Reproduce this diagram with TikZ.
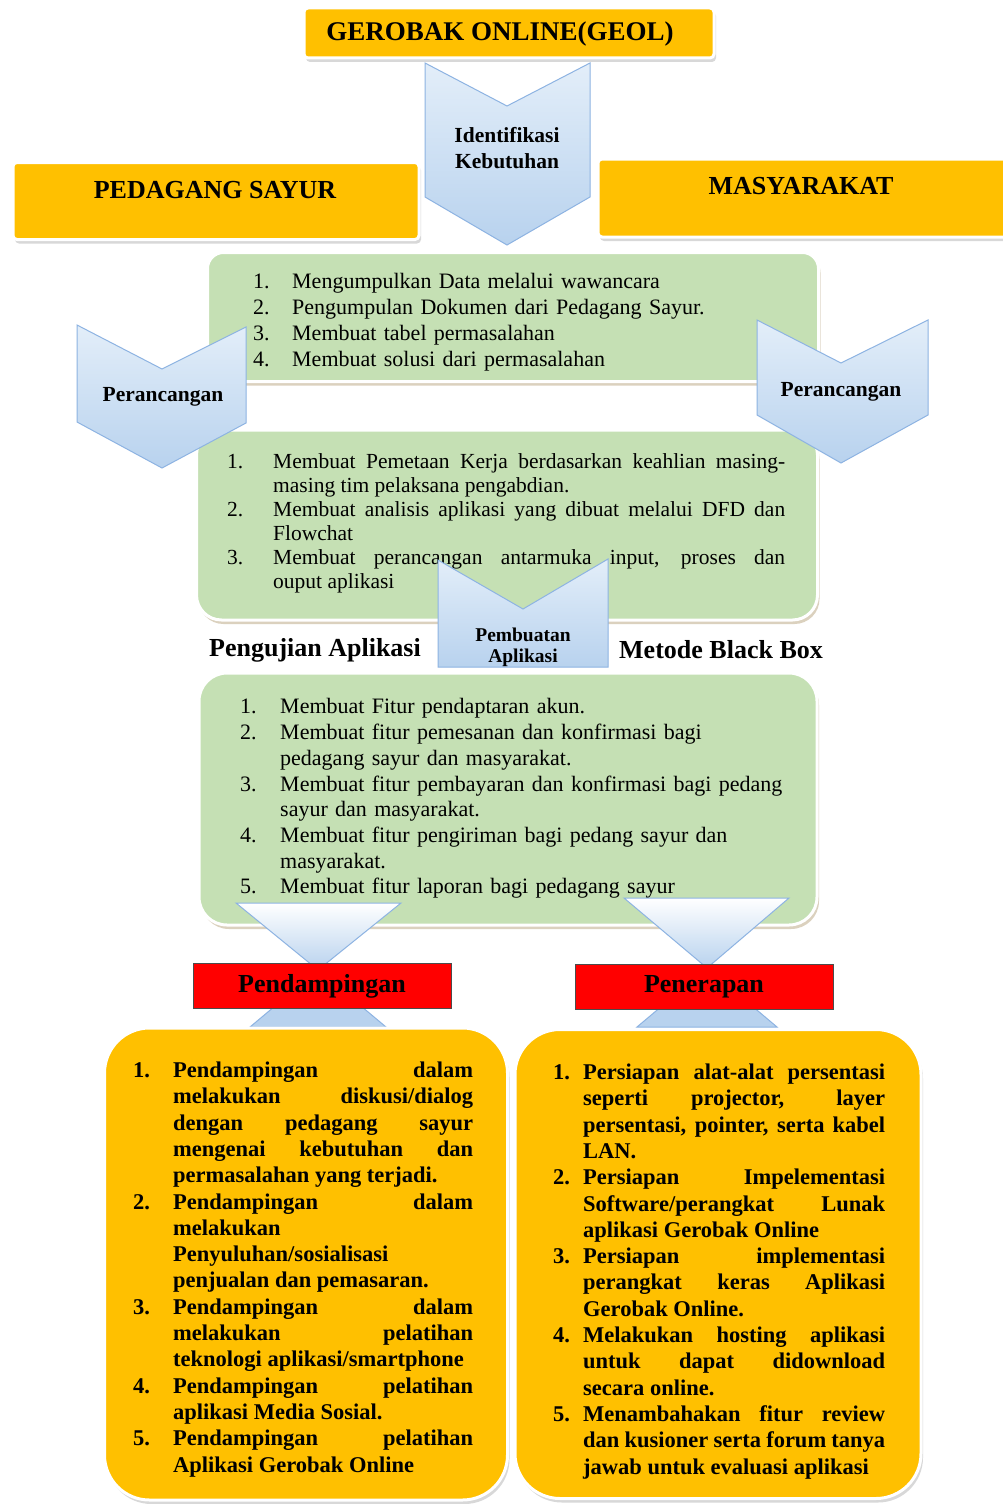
\documentclass[tikz,border=0pt]{standalone}
\usepackage{fontspec}
\setmainfont{Liberation Serif}
\usetikzlibrary{shadows}

\definecolor{geolyellow}{HTML}{FFC000}
\definecolor{stepgreen}{HTML}{C5E0B4}
\definecolor{chevtop}{HTML}{E3EEF9}
\definecolor{chevbot}{HTML}{B8D2EE}
\definecolor{chevline}{HTML}{8DB3E2}
\definecolor{tanshadow}{HTML}{B9A57F}

\newlength\numw
\newcommand\itm[2]{\par\noindent\hangindent=\numw\hangafter=1\strut\makebox[\numw][l]{#1}#2\strut}
\newcommand\listsetup[1]{\setlength\numw{#1}\tolerance=10000\hyphenpenalty=10000\exhyphenpenalty=10000\parindent=0pt}

\tikzset{
	yelbox/.style   = {rectangle, rounded corners=4pt, fill=geolyellow,
		draw=white, line width=3pt,
		drop shadow={shadow xshift=2pt, shadow yshift=-4pt, fill=black!30}},
	bigbox/.style   = {yelbox, rounded corners=45pt},
	greenbox/.style = {rectangle, rounded corners=20pt, fill=stepgreen,
		draw=white, line width=3pt,
		drop shadow={shadow xshift=2pt, shadow yshift=-4pt, fill=tanshadow}},
	redbox/.style   = {rectangle, fill=red, draw=black!70, line width=0.8pt},
	chev/.style     = {draw=chevline, line width=1pt, top color=chevtop, bottom color=chevbot},
	funnel/.style   = {draw=chevline, line width=1pt, top color=white, bottom color=chevbot},
	title/.style    = {font=\fontsize{26}{30}\selectfont\bfseries},
	chevtext/.style = {align=center, inner sep=0pt, font=\fontsize{21.5}{26}\selectfont\bfseries},
	listtext/.style = {anchor=north west, inner sep=0pt}
}

\begin{document}
\begin{tikzpicture}[x=1pt, y=-1pt]
	\useasboundingbox[fill=white] (0,0) rectangle (1003,1504);

	% top part
	\draw[chev] (425,63) -- (507,106) -- (590,63) -- (590,197) -- (507,245) -- (425,197) -- cycle;
	\node[chevtext] (identifikasi) at (507,148) {Identifikasi\\Kebutuhan};

	\node[yelbox, minimum width=410pt, minimum height=50pt] (geol) at (509,33) {};
	\node[title, font=\fontsize{27}{30}\selectfont\bfseries] (geoltxt) at (500,34) {GEROBAK ONLINE(GEOL)};
	\node[yelbox, minimum width=406pt, minimum height=77pt] (pedagang) at (216,201) {};
	\node[title] (pedagangtxt) at (215,190) {PEDAGANG SAYUR};
	\node[yelbox, minimum width=412pt, minimum height=78pt] (masyarakat) at (804,198) {};
	\node[title] (masyarakattxt) at (801,186) {MASYARAKAT};

	% identifikasi
	\node[greenbox, rounded corners=16pt, minimum width=611pt, minimum height=129pt] (ident) at (513,317) {};
	\node[listtext, text width=480pt, align=left, font=\fontsize{22}{26}\selectfont] (identtxt) at (253,262) {\listsetup{39pt}%
		\itm{1.}{Mengumpulkan Data melalui wawancara}
		\itm{2.}{Pengumpulan Dokumen dari Pedagang Sayur.}
		\itm{3.}{Membuat tabel permasalahan}
		\itm{4.}{Membuat solusi dari permasalahan}\par};

	% perancangan
	\node[greenbox, rounded corners=25pt, minimum width=621pt, minimum height=190pt] (rancang) at (507,525) {};
	\node[listtext, text width=558pt, align=justify, font=\fontsize{21.5}{24}\selectfont] (rancangtxt) at (227,444) {\listsetup{46pt}%
		\itm{1.}{Membuat Pemetaan Kerja berdasarkan keahlian masing-\linebreak masing tim pelaksana pengabdian.}
		\itm{2.}{Membuat analisis aplikasi yang dibuat melalui DFD dan\linebreak Flowchat}
		\itm{3.}{Membuat perancangan antarmuka input, proses dan\linebreak ouput aplikasi}\par};

	\draw[chev] (77,325) -- (162,369) -- (246,327) -- (246,423) -- (162,468) -- (77,422) -- cycle;
	\node[chevtext] (rancangkiri) at (163,397) {Perancangan};
	\draw[chev] (757,320) -- (841,363) -- (928,320) -- (928,415) -- (841,463) -- (757,415) -- cycle;
	\node[chevtext] (rancangkanan) at (841,392) {Perancangan};

	% pembuatan
	\draw[chev] (438,560) -- (523,609) -- (608,559) -- (608,667) -- (438,667) -- cycle;
	\node[chevtext, font=\fontsize{19.5}{21}\selectfont\bfseries] (pembuatan) at (523,647) {Pembuatan\\Aplikasi};
	\node[title] (pengujian) at (315,650) {Pengujian Aplikasi};
	\node[title] (blackbox) at (721,650) {Metode Black Box};

	\node[greenbox, rounded corners=28pt, minimum width=618pt, minimum height=252pt] (buat) at (508,799) {};
	\node[listtext, text width=552pt, align=left, font=\fontsize{22}{25.7}\selectfont] (buattxt) at (240,688) {\listsetup{40pt}%
		\itm{1.}{Membuat Fitur pendaptaran akun.}
		\itm{2.}{Membuat fitur pemesanan dan konfirmasi bagi\newline pedagang sayur dan masyarakat.}
		\itm{3.}{Membuat fitur pembayaran dan konfirmasi bagi pedang\newline sayur dan masyarakat.}
		\itm{4.}{Membuat fitur pengiriman bagi pedang sayur dan\newline masyarakat.}
		\itm{5.}{Membuat fitur laporan bagi pedagang sayur}\par};

	% pendampingan dan penerapan
	\draw[funnel] (236,903) -- (401,903) -- (318,970) -- cycle;
	\draw[chev, top color=chevbot] (318,970) -- (386,1027) -- (250,1027) -- cycle;
	\draw[funnel] (624,898) -- (789,898) -- (707,968) -- cycle;
	\draw[chev, top color=chevbot] (707,968) -- (777,1027) -- (637,1027) -- cycle;

	\node[redbox, title, minimum width=258pt, minimum height=45pt] (pendampingan) at (322,986) {Pendampingan};
	\node[redbox, title, minimum width=258pt, minimum height=45pt] (penerapan) at (704,987) {Penerapan};

	\node[bigbox, minimum width=403pt, minimum height=472pt] (dampingbox) at (306,1264) {};
	\node[listtext, text width=340pt, align=justify, font=\fontsize{22.5}{26.3}\selectfont\bfseries] (dampingtxt) at (133,1051) {\listsetup{40pt}%
		\itm{1.}{Pendampingan dalam\linebreak melakukan diskusi/dialog\linebreak dengan pedagang sayur\linebreak mengenai kebutuhan dan\linebreak permasalahan yang terjadi.}
		\itm{2.}{Pendampingan dalam\linebreak melakukan\linebreak Penyuluhan/sosialisasi\linebreak penjualan dan pemasaran.}
		\itm{3.}{Pendampingan dalam\linebreak melakukan pelatihan\linebreak teknologi aplikasi/smartphone}
		\itm{4.}{Pendampingan pelatihan\linebreak aplikasi Media Sosial.}
		\itm{5.}{Pendampingan pelatihan\linebreak Aplikasi Gerobak Online}\par};

	\node[bigbox, minimum width=406pt, minimum height=469pt] (terapbox) at (718,1264) {};
	\node[listtext, text width=332pt, align=justify, font=\fontsize{22.5}{26.3}\selectfont\bfseries] (terapbox) at (553,1053) {\listsetup{30pt}%
		\itm{1.}{Persiapan alat-alat persentasi\linebreak seperti projector, layer\linebreak persentasi, pointer, serta kabel\linebreak LAN.}
		\itm{2.}{Persiapan Impelementasi\linebreak Software/perangkat Lunak\linebreak aplikasi Gerobak Online}
		\itm{3.}{Persiapan implementasi\linebreak perangkat keras Aplikasi\linebreak Gerobak Online.}
		\itm{4.}{Melakukan hosting aplikasi\linebreak untuk dapat didownload\linebreak secara online.}
		\itm{5.}{Menambahakan fitur review\linebreak dan kusioner serta forum tanya\linebreak jawab untuk evaluasi aplikasi}\par};
\end{tikzpicture}
\end{document}
